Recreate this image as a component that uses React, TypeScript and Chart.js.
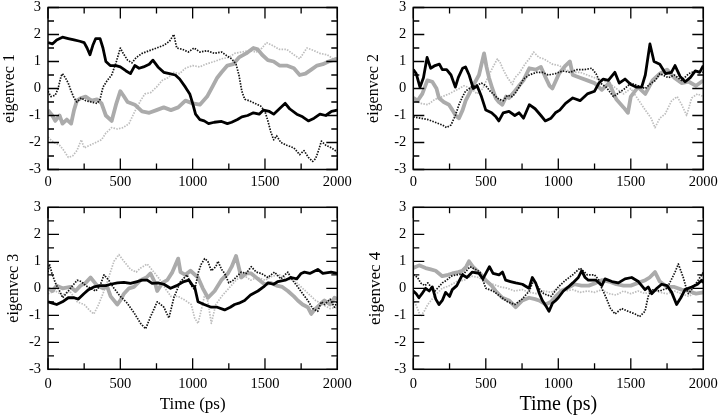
import React, { useEffect, useRef } from 'react';
import { Chart, registerables } from 'chart.js';

Chart.register(...registerables);

type Pt = [number, number];

// ---- axes / labels ----
const X_MAJOR = [0, 500, 1000, 1500, 2000];
const X_MINOR = [250, 750, 1250, 1750];
const Y_MAJOR = [-3, -2, -1, 0, 1, 2, 3];
const Y_MINOR = [-2.5, -1.5, -0.5, 0.5, 1.5, 2.5];
const X_TITLE = 'Time (ps)';
const Y_TITLES = ['eigenvec 1', 'eigenvec 2', 'eigenvec 3', 'eigenvec 4'];

// ---- eigenvec 1 ----
const E1_BLACK: Pt[] = [[0,1.7],[30,1.65],[60,1.8],[100,1.9],[140,1.85],[180,1.8],[220,1.75],[250,1.7],[270,1.5],[290,1.25],[310,1.6],[330,1.85],[360,1.85],[380,1.5],[400,1.0],[430,0.85],[470,0.85],[500,0.8],[540,0.65],[570,0.55],[600,0.85],[630,0.75],[660,0.8],[700,0.9],[725,1.05],[760,0.8],[800,0.6],[840,0.55],[880,0.5],[910,0.35],[950,0.05],[980,-0.2],[1000,-0.55],[1020,-0.95],[1050,-1.15],[1080,-1.2],[1110,-1.3],[1150,-1.25],[1200,-1.22],[1240,-1.3],[1270,-1.25],[1310,-1.15],[1340,-1.05],[1380,-1.0],[1420,-0.9],[1460,-0.95],[1490,-0.8],[1530,-0.85],[1560,-0.95],[1600,-0.75],[1640,-0.55],[1670,-0.75],[1720,-0.95],[1760,-1.05],[1800,-1.2],[1840,-1.1],[1880,-0.95],[1920,-1.0],[1960,-0.85],[2000,-0.8]];
const E1_BLACK_DOT: Pt[] = [[0,-0.1],[20,-0.3],[50,-0.25],[70,0.0],[90,0.45],[100,0.55],[120,0.4],[140,0.2],[160,-0.1],[180,-0.35],[200,-0.5],[230,-0.35],[260,-0.45],[300,-0.5],[340,-0.55],[360,-0.4],[380,0.05],[410,0.3],[440,0.5],[470,0.95],[500,1.5],[520,1.3],[550,1.05],[580,0.95],[610,1.15],[650,1.3],[700,1.4],[750,1.5],[800,1.6],[840,1.75],[870,2.0],[890,1.5],[930,1.45],[970,1.35],[1010,1.5],[1050,1.35],[1100,1.4],[1150,1.3],[1200,1.35],[1240,1.2],[1270,1.1],[1300,0.9],[1320,0.5],[1340,-0.1],[1360,-0.4],[1390,-0.45],[1430,-0.55],[1470,-0.65],[1500,-0.85],[1520,-1.2],[1540,-1.6],[1560,-1.9],[1580,-1.75],[1610,-2.0],[1650,-2.1],[1700,-2.2],[1740,-2.45],[1770,-2.3],[1800,-2.55],[1830,-2.7],[1850,-2.6],[1870,-2.3],[1890,-1.95],[1920,-2.1],[1960,-2.2],[2000,-2.35]];
const E1_GRAY: Pt[] = [[0,-0.8],[30,-1.0],[50,-1.2],[80,-1.0],[100,-1.3],[130,-1.15],[160,-1.3],[180,-0.8],[200,-0.45],[230,-0.35],[260,-0.3],[300,-0.45],[340,-0.4],[370,-0.55],[400,-1.0],[440,-1.2],[470,-0.6],[500,-0.1],[520,-0.25],[550,-0.5],[600,-0.6],[650,-0.85],[700,-0.9],[750,-0.8],[800,-0.7],[850,-0.8],[900,-0.7],[950,-0.45],[1000,-0.55],[1050,-0.6],[1100,-0.3],[1140,0.1],[1170,0.4],[1200,0.6],[1240,0.85],[1280,0.9],[1320,1.15],[1370,1.3],[1420,1.5],[1450,1.45],[1480,1.25],[1520,1.05],[1560,1.0],[1600,0.85],[1650,0.85],[1700,0.75],[1740,0.5],[1780,0.55],[1820,0.7],[1860,0.85],[1900,0.9],[1940,1.0],[1970,1.05],[2000,1.1]];
const E1_GRAY_DOT: Pt[] = [[0,-1.8],[40,-2.0],[80,-2.1],[110,-2.3],[140,-2.55],[170,-2.5],[200,-2.3],[230,-1.9],[250,-2.2],[290,-2.1],[330,-2.0],[370,-1.9],[400,-1.65],[440,-1.45],[480,-1.5],[520,-1.45],[560,-1.3],[600,-0.85],[640,-0.45],[670,-0.2],[710,-0.15],[750,0.05],[790,0.3],[830,0.4],[870,0.6],[910,0.55],[950,0.75],[1000,0.85],[1050,0.8],[1090,0.9],[1150,1.0],[1200,1.1],[1250,1.15],[1290,1.3],[1340,1.35],[1390,1.4],[1440,1.35],[1480,1.5],[1510,1.7],[1550,1.6],[1600,1.45],[1650,1.45],[1700,1.25],[1740,1.1],[1790,1.5],[1840,1.4],[1880,1.3],[1930,1.25],[1970,1.1],[2000,1.15]];

// ---- eigenvec 2 ----
const E2_BLACK: Pt[] = [[0,0.7],[20,0.55],[46,0.05],[70,0.4],[95,1.15],[120,0.75],[150,0.85],[180,0.9],[200,0.7],[230,0.7],[260,0.5],[290,0.05],[310,0.4],[340,0.75],[360,0.8],[385,0.5],[414,0.0],[440,0.1],[470,-0.3],[500,-0.8],[540,-0.9],[570,-1.05],[590,-1.2],[620,-0.9],[660,-0.85],[700,-1.0],[730,-0.9],[760,-1.1],[800,-0.6],[840,-0.75],[880,-1.0],[910,-1.2],[950,-1.1],[980,-0.9],[1010,-0.8],[1050,-0.55],[1100,-0.35],[1150,-0.45],[1200,-0.2],[1250,-0.1],[1280,0.2],[1310,0.35],[1345,0.3],[1390,0.6],[1420,0.2],[1460,0.35],[1500,0.15],[1540,0.05],[1575,0.05],[1600,0.5],[1632,1.65],[1660,1.0],[1700,0.9],[1740,0.55],[1780,0.6],[1805,0.85],[1840,0.45],[1875,0.25],[1910,0.4],[1945,0.65],[1975,0.6],[2000,0.85]];
const E2_BLACK_DOT: Pt[] = [[0,-1.05],[50,-1.1],[100,-1.15],[150,-1.25],[200,-1.35],[230,-1.45],[260,-1.35],[290,-1.0],[315,-0.6],[340,-0.3],[360,-0.1],[400,0.05],[430,0.1],[470,0.2],[500,0.1],[530,-0.1],[560,-0.25],[590,-0.4],[620,-0.45],[650,-0.25],[680,-0.3],[700,-0.2],[730,0.05],[760,0.35],[800,0.5],[850,0.6],[890,0.6],[930,0.5],[980,0.55],[1030,0.65],[1080,0.6],[1130,0.7],[1180,0.7],[1230,0.75],[1260,0.55],[1290,0.2],[1330,0.05],[1380,-0.3],[1420,-0.15],[1460,0.0],[1500,0.2],[1550,0.1],[1600,0.0],[1640,0.2],[1670,0.3],[1700,0.55],[1760,0.4],[1800,0.5],[1850,0.3],[1900,0.55],[1945,0.65],[2000,0.6]];
const E2_GRAY: Pt[] = [[0,-0.35],[30,-0.45],[62,-0.2],[97,0.3],[131,0.25],[160,0.0],[177,-0.35],[210,-0.5],[246,-0.6],[270,-0.8],[292,-1.0],[315,-1.1],[340,-0.8],[361,-0.45],[385,-0.2],[407,0.05],[453,0.5],[488,1.3],[505,0.8],[522,0.4],[545,0.0],[568,-0.35],[590,-0.5],[614,-0.6],[640,-0.3],[660,-0.35],[700,-0.1],[729,0.1],[760,0.3],[800,0.75],[844,0.7],[880,0.8],[913,0.4],[940,0.1],[959,0.0],[1005,0.55],[1050,0.85],[1080,1.0],[1100,0.5],[1150,0.4],[1200,0.3],[1250,0.2],[1300,-0.05],[1350,0.2],[1400,-0.4],[1450,-0.7],[1480,-0.9],[1500,-0.3],[1550,0.05],[1600,-0.2],[1650,0.3],[1700,0.55],[1750,0.7],[1800,0.4],[1850,0.2],[1900,0.25],[1950,0.1],[2000,0.3]];
const E2_GRAY_DOT: Pt[] = [[0,-0.4],[50,-0.55],[100,-0.6],[150,-0.4],[200,-0.3],[246,-0.2],[300,-0.05],[350,0.1],[400,0.0],[440,-0.2],[480,0.0],[500,0.25],[545,0.75],[580,1.1],[600,0.95],[620,0.7],[650,0.4],[683,0.15],[700,0.4],[729,0.55],[770,0.9],[800,1.1],[830,1.35],[867,1.15],[900,1.1],[959,0.9],[1005,0.85],[1050,0.7],[1100,0.6],[1150,0.6],[1200,0.5],[1250,0.4],[1300,0.3],[1350,0.2],[1400,0.0],[1450,-0.2],[1500,0.0],[1550,-0.4],[1600,-0.8],[1640,-1.1],[1667,-1.45],[1700,-1.1],[1736,-0.95],[1782,-0.45],[1820,-0.3],[1851,-0.6],[1885,-1.0],[1920,-0.35],[1960,-0.2],[2000,-0.3]];

// ---- eigenvec 3 ----
const E3_BLACK: Pt[] = [[0,-0.5],[30,-0.55],[60,-0.6],[100,-0.5],[140,-0.35],[180,-0.35],[210,-0.4],[248,-0.2],[280,-0.05],[317,0.05],[360,0.1],[400,0.1],[433,0.15],[480,0.2],[525,0.22],[570,0.18],[617,0.25],[650,0.3],[686,0.3],[720,0.18],[760,0.2],[801,0.15],[847,0.0],[890,0.1],[939,0.25],[975,0.3],[1000,0.1],[1014,0.05],[1037,-0.5],[1080,-0.6],[1129,-0.7],[1170,-0.7],[1221,-0.8],[1260,-0.7],[1290,-0.6],[1320,-0.55],[1359,-0.45],[1400,-0.25],[1451,-0.1],[1490,0.05],[1520,0.2],[1560,0.15],[1590,0.25],[1640,0.3],[1681,0.4],[1720,0.35],[1750,0.55],[1773,0.6],[1810,0.55],[1865,0.7],[1900,0.55],[1957,0.6],[2000,0.55]];
const E3_BLACK_DOT: Pt[] = [[0,0.6],[10,0.9],[30,0.5],[55,0.15],[80,-0.1],[101,-0.35],[140,-0.1],[170,0.1],[202,0.3],[230,0.25],[260,0.1],[294,0.0],[330,-0.1],[360,0.1],[387,0.5],[420,0.3],[456,0.0],[500,-0.3],[548,-0.55],[594,-0.9],[640,-1.3],[675,-1.5],[709,-1.05],[730,-0.8],[755,-0.5],[780,-0.6],[801,-0.7],[836,-1.1],[870,-0.35],[916,0.25],[962,0.5],[990,0.1],[1014,-0.05],[1040,0.6],[1060,0.9],[1083,1.1],[1105,1.0],[1129,0.65],[1160,0.8],[1175,1.0],[1200,0.7],[1221,0.55],[1250,0.2],[1280,0.3],[1336,0.6],[1370,0.55],[1405,0.8],[1440,0.6],[1474,0.55],[1520,0.4],[1566,0.6],[1610,0.35],[1658,0.6],[1690,0.3],[1727,0.05],[1760,-0.2],[1796,-0.45],[1830,-0.75],[1865,-0.85],[1890,-0.5],[1911,-0.6],[1950,-0.4],[1980,-0.7],[2000,-0.5]];
const E3_GRAY: Pt[] = [[0,0.0],[30,-0.1],[60,0.1],[100,0.0],[156,0.05],[190,-0.1],[225,0.1],[260,0.2],[294,0.4],[340,0.1],[380,0.0],[410,0.05],[433,-0.3],[479,-0.6],[500,-0.45],[525,-0.2],[560,0.0],[594,0.05],[640,0.3],[680,0.4],[709,0.55],[740,0.2],[755,-0.1],[790,0.2],[824,0.3],[860,0.6],[900,1.1],[916,0.6],[950,0.5],[985,0.65],[1037,0.4],[1070,0.0],[1106,-0.35],[1152,-0.1],[1198,0.3],[1244,0.55],[1270,0.8],[1300,1.2],[1336,0.4],[1370,0.55],[1405,0.55],[1450,0.35],[1497,0.15],[1540,0.2],[1580,0.1],[1620,0.05],[1658,-0.1],[1700,-0.3],[1727,-0.45],[1760,-0.6],[1796,-0.7],[1820,-0.95],[1842,-0.8],[1880,-0.6],[1911,-0.45],[1950,-0.6],[1980,-0.35],[2000,-0.4]];
const E3_GRAY_DOT: Pt[] = [[0,-0.2],[50,-0.1],[100,-0.25],[150,-0.1],[202,-0.5],[250,-0.6],[294,-0.85],[317,-0.95],[350,-0.6],[380,-0.2],[410,0.25],[456,1.0],[490,1.25],[525,1.0],[571,0.7],[610,0.6],[640,0.75],[686,0.9],[732,0.6],[770,0.35],[810,0.0],[850,-0.3],[900,-0.3],[950,-0.45],[990,-0.6],[1014,-1.1],[1037,-1.3],[1060,-0.8],[1085,-0.2],[1106,-0.5],[1129,-1.3],[1160,-0.6],[1200,-0.3],[1250,0.0],[1300,0.3],[1350,0.5],[1400,0.3],[1450,0.4],[1500,0.3],[1550,0.45],[1600,0.5],[1650,0.35],[1700,0.3],[1750,0.05],[1800,-0.2],[1850,-0.45],[1900,-0.6],[1950,-0.75],[2000,-0.7]];

// ---- eigenvec 4 ----
const E4_BLACK: Pt[] = [[0,-0.1],[20,-0.2],[39,-0.35],[60,-0.2],[85,0.0],[110,-0.1],[131,0.05],[155,-0.4],[177,-0.6],[200,-0.45],[223,-0.15],[250,-0.3],[269,-0.05],[300,0.1],[338,0.5],[370,0.4],[407,0.6],[453,0.55],[480,0.35],[500,0.55],[525,0.8],[550,0.55],[591,0.5],[615,0.6],[637,0.3],[670,0.25],[706,0.2],[752,0.15],[798,0.0],[821,0.4],[844,0.2],[870,-0.2],[890,-0.45],[920,-0.7],[936,-0.85],[960,-0.55],[982,-0.45],[1000,-0.35],[1035,-0.1],[1069,0.05],[1100,0.2],[1138,0.4],[1161,0.65],[1185,0.4],[1207,0.3],[1260,0.3],[1300,0.1],[1322,0.35],[1370,0.25],[1414,0.2],[1460,0.35],[1506,0.4],[1552,0.25],[1598,-0.05],[1620,0.05],[1644,-0.2],[1680,0.0],[1713,0.15],[1750,0.1],[1782,-0.15],[1816,-0.6],[1845,-0.35],[1874,-0.05],[1920,0.05],[1960,0.15],[1989,0.3],[2000,0.2]];
const E4_BLACK_DOT: Pt[] = [[0,0.5],[30,0.4],[50,0.2],[80,0.1],[100,0.2],[130,0.0],[150,-0.1],[200,0.2],[230,0.3],[260,0.45],[300,0.5],[350,0.55],[391,0.8],[430,0.7],[460,0.6],[480,0.3],[500,0.0],[550,-0.1],[600,-0.3],[650,-0.5],[700,-0.6],[750,-0.4],[800,-0.1],[830,0.3],[850,0.1],[900,-0.2],[950,-0.3],[1000,0.05],[1050,0.3],[1100,0.5],[1150,0.75],[1200,0.5],[1250,0.5],[1280,0.3],[1300,0.0],[1330,-0.35],[1360,-0.75],[1391,-0.95],[1437,-0.75],[1480,-0.85],[1529,-0.95],[1560,-1.05],[1598,-0.85],[1620,-0.3],[1644,-0.05],[1700,-0.1],[1750,0.0],[1805,0.6],[1828,0.9],[1862,0.4],[1880,0.05],[1897,-0.2],[1940,0.1],[1989,0.5],[2000,0.6]];
const E4_GRAY: Pt[] = [[0,0.75],[40,0.85],[85,0.75],[120,0.7],[154,0.65],[200,0.45],[240,0.5],[269,0.55],[310,0.6],[338,0.65],[365,0.8],[384,1.0],[410,0.8],[430,0.7],[470,0.5],[499,0.3],[540,0.1],[568,-0.1],[614,-0.35],[660,-0.45],[706,-0.7],[752,-0.45],[798,-0.35],[840,-0.4],[867,-0.45],[913,-0.6],[950,-0.5],[982,-0.3],[1020,-0.1],[1060,0.0],[1110,0.15],[1160,0.1],[1210,0.1],[1260,0.2],[1300,0.3],[1350,0.25],[1400,0.15],[1450,0.1],[1500,0.1],[1550,0.2],[1600,0.3],[1630,0.4],[1667,0.6],[1700,0.25],[1750,0.05],[1800,0.05],[1850,-0.05],[1900,-0.1],[1950,-0.2],[2000,-0.15]];
const E4_GRAY_DOT: Pt[] = [[0,-0.4],[25,-0.7],[50,-1.05],[75,-0.85],[100,-0.6],[130,-0.4],[160,-0.2],[200,0.0],[250,0.1],[300,0.25],[350,0.3],[400,0.45],[450,0.4],[500,0.25],[550,0.15],[600,0.05],[650,0.0],[700,-0.1],[750,-0.05],[800,-0.15],[850,-0.2],[900,-0.1],[950,-0.15],[1000,0.0],[1050,-0.1],[1100,-0.05],[1150,-0.15],[1200,-0.1],[1250,-0.15],[1300,-0.05],[1350,-0.2],[1400,-0.25],[1450,-0.1],[1500,-0.2],[1550,-0.1],[1600,-0.2],[1650,-0.05],[1700,-0.15],[1750,-0.2],[1800,-0.1],[1850,-0.2],[1900,-0.3],[1950,-0.15],[2000,-0.2]];

const SERIES: Pt[][][] = [
  [E1_BLACK, E1_BLACK_DOT, E1_GRAY, E1_GRAY_DOT],
  [E2_BLACK, E2_BLACK_DOT, E2_GRAY, E2_GRAY_DOT],
  [E3_BLACK, E3_BLACK_DOT, E3_GRAY, E3_GRAY_DOT],
  [E4_BLACK, E4_BLACK_DOT, E4_GRAY, E4_GRAY_DOT],
];

// styles in the same order as the series: black solid, black dotted, gray solid, gray dotted
const LINE_STYLES = [
  { color: '#000000', width: 2.8, dash: [] as number[] },
  { color: '#111111', width: 1.7, dash: [1.5, 1.3] },
  { color: '#ababab', width: 3.8, dash: [] as number[] },
  { color: '#bdbdbd', width: 1.7, dash: [1.5, 1.3] },
];

const FONT = 'Liberation Serif, "Times New Roman", DejaVu Serif, serif';

type PanelCfg = {
  left: number; top: number; w: number; h: number;
  padTop: number; padRight: number; yAxisW: number; xAxisH: number;
  xTickPad: number; yTitleSize: number; yTitlePad: number;
  xTitleSize: number; xTitlePad: number; showXTitle: boolean;
};

const PANELS: PanelCfg[] = [
  { left: 0, top: 0, w: 360, h: 200, padTop: 7.5, padRight: 22.7, yAxisW: 48, xAxisH: 30.5, xTickPad: 3.5, yTitleSize: 16, yTitlePad: 0.4, xTitleSize: 17, xTitlePad: 0, showXTitle: false },
  { left: 360, top: 0, w: 360, h: 200, padTop: 7.5, padRight: 16.7, yAxisW: 53.3, xAxisH: 30.5, xTickPad: 3.5, yTitleSize: 16, yTitlePad: 3.7, xTitleSize: 17, xTitlePad: 0, showXTitle: false },
  { left: 0, top: 192, w: 360, h: 225, padTop: 15.3, padRight: 22.7, yAxisW: 48, xAxisH: 47.7, xTickPad: 5.7, yTitleSize: 16, yTitlePad: 4, xTitleSize: 17, xTitlePad: 1.8, showXTitle: true },
  { left: 360, top: 192, w: 360, h: 225, padTop: 15.3, padRight: 16.7, yAxisW: 53.3, xAxisH: 47.7, xTickPad: 5.7, yTitleSize: 17, yTitlePad: 5, xTitleSize: 20, xTitlePad: 0, showXTitle: true },
];

const framePlugin = {
  id: 'xmgraceFrame',
  afterDatasetsDraw(chart: any) {
    const { ctx, chartArea: a, scales } = chart;
    const xs = scales.x;
    const ys = scales.y;
    ctx.save();
    ctx.strokeStyle = '#000';
    ctx.lineWidth = 1.5;
    ctx.strokeRect(a.left, a.top, a.right - a.left, a.bottom - a.top);
    ctx.lineWidth = 1.3;
    ctx.beginPath();
    const vTick = (v: number, len: number) => {
      const px = xs.getPixelForValue(v);
      ctx.moveTo(px, a.bottom); ctx.lineTo(px, a.bottom - len);
      ctx.moveTo(px, a.top); ctx.lineTo(px, a.top + len);
    };
    const hTick = (v: number, len: number) => {
      const py = ys.getPixelForValue(v);
      ctx.moveTo(a.left, py); ctx.lineTo(a.left + len, py);
      ctx.moveTo(a.right, py); ctx.lineTo(a.right - len, py);
    };
    X_MAJOR.forEach((v) => vTick(v, 11));
    X_MINOR.forEach((v) => vTick(v, 6));
    Y_MAJOR.forEach((v) => hTick(v, 11));
    Y_MINOR.forEach((v) => hTick(v, 6));
    ctx.stroke();
    ctx.restore();
  },
};

function zeroPad(s: any) {
  s.paddingLeft = 0; s.paddingRight = 0; s.paddingTop = 0; s.paddingBottom = 0;
}

function Panel({ idx }: { idx: number }) {
  const ref = useRef<HTMLCanvasElement>(null);
  const cfg = PANELS[idx];
  useEffect(() => {
    const canvas = ref.current!;
    const datasets = SERIES[idx].map((series, i) => ({
      data: series.map(([x, y]) => ({ x, y })),
      borderColor: LINE_STYLES[i].color,
      borderWidth: LINE_STYLES[i].width,
      borderDash: LINE_STYLES[i].dash,
      pointRadius: 0,
      fill: false,
      tension: 0,
      borderJoinStyle: 'round' as const,
    }));
    const chart = new Chart(canvas, {
      type: 'line',
      data: { datasets },
      options: {
        responsive: false,
        animation: false,
        devicePixelRatio: 1,
        events: [],
        layout: { padding: { top: cfg.padTop, right: cfg.padRight, left: 0, bottom: 0 } },
        plugins: { legend: { display: false }, tooltip: { enabled: false } },
        scales: {
          x: {
            type: 'linear',
            min: 0,
            max: 2000,
            grid: { display: false, drawTicks: false },
            border: { display: false },
            ticks: {
              stepSize: 500,
              padding: cfg.xTickPad,
              maxRotation: 0,
              autoSkip: false,
              color: '#000',
              font: { family: FONT, size: 14.5 },
              callback: (v: any) => String(v),
            },
            title: {
              display: cfg.showXTitle,
              text: X_TITLE,
              color: '#000',
              font: { family: FONT, size: cfg.xTitleSize },
              padding: { top: 0, bottom: cfg.xTitlePad },
            },
            afterFit: (s: any) => { s.height = cfg.xAxisH; zeroPad(s); },
          },
          y: {
            type: 'linear',
            min: -3,
            max: 3,
            grid: { display: false, drawTicks: false },
            border: { display: false },
            ticks: {
              stepSize: 1,
              padding: 7,
              color: '#000',
              font: { family: FONT, size: 14.5 },
              callback: (v: any) => String(v),
            },
            title: {
              display: true,
              text: Y_TITLES[idx],
              color: '#000',
              font: { family: FONT, size: cfg.yTitleSize },
              padding: { top: cfg.yTitlePad, bottom: 0 },
            },
            afterFit: (s: any) => { s.width = cfg.yAxisW; zeroPad(s); },
          },
        },
      },
      plugins: [framePlugin],
    } as any);
    return () => chart.destroy();
  }, [idx]);
  return (
    <canvas
      ref={ref}
      width={cfg.w}
      height={cfg.h}
      style={{ position: 'absolute', left: cfg.left, top: cfg.top, width: cfg.w, height: cfg.h }}
    />
  );
}

export default function App() {
  return (
    <div style={{ position: 'absolute', left: 0, top: 0, width: 720, height: 417, background: '#fff', overflow: 'hidden' }}>
      {PANELS.map((_, i) => (
        <Panel key={i} idx={i} />
      ))}
    </div>
  );
}
